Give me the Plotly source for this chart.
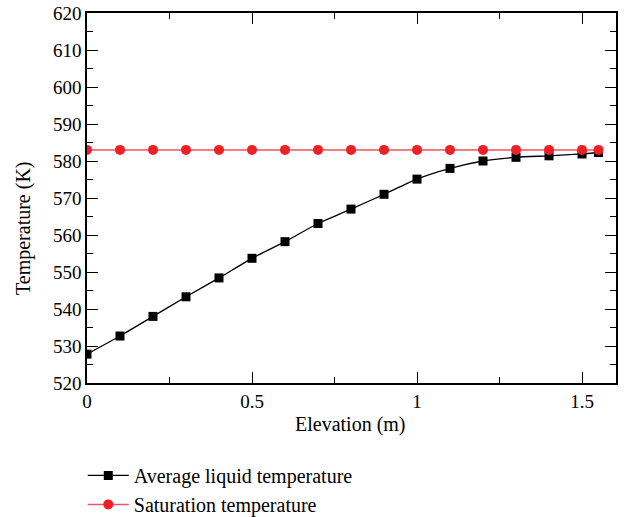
import plotly.graph_objects as go

elevation = [0, 0.1, 0.2, 0.3, 0.4, 0.5, 0.6, 0.7, 0.8, 0.9, 1.0, 1.1, 1.2, 1.3, 1.4, 1.5, 1.55]
avg_liquid = [527.8, 532.7, 538.0, 543.3, 548.4, 553.7, 558.2, 563.1, 567.0, 571.0,
              575.1, 578.0, 580.0, 581.0, 581.4, 581.9, 582.3]
saturation = [583.0] * len(elevation)

font_family = "Liberation Serif"

fig = go.Figure()
fig.add_trace(go.Scatter(
    x=elevation, y=avg_liquid, mode="lines+markers",
    name="Average liquid temperature",
    line=dict(color="black", width=1.3, shape="spline", smoothing=0.6),
    marker=dict(symbol="square", size=9, color="black"),
))
fig.add_trace(go.Scatter(
    x=elevation, y=saturation, mode="lines+markers",
    name="Saturation temperature",
    line=dict(color="#ee5560", width=1.5),
    marker=dict(symbol="circle", size=10, color="#ee2027"),
))

axis_common = dict(
    showline=True, linecolor="black", linewidth=1.5, mirror="allticks",
    ticks="inside", ticklen=11, tickwidth=1.2, tickcolor="black",
    showgrid=False, zeroline=False,
    tickfont=dict(family=font_family, size=19, color="black"),
)

fig.update_xaxes(
    range=[0, 1.603], tickvals=[0, 0.5, 1, 1.5], ticktext=["0", "0.5", "1", "1.5"],
    minor=dict(tickvals=[0.25, 0.75, 1.25], ticks="inside", ticklen=6, tickcolor="black", tickwidth=1.2),
    ticklabelstandoff=0,
    **axis_common,
)
fig.update_yaxes(
    range=[520, 620], dtick=10,
    minor=dict(dtick=5, ticks="inside", ticklen=6, tickcolor="black", tickwidth=1.2),
    **axis_common,
)

title_font = dict(family=font_family, size=20, color="black")
fig.add_annotation(text="Elevation (m)", xref="paper", yref="paper",
                   x=0.499, y=-0.1135, xanchor="center", yanchor="middle",
                   showarrow=False, font=title_font)
fig.add_annotation(text="Temperature (K)", xref="paper", yref="paper",
                   x=-0.119, y=0.419, xanchor="center", yanchor="middle",
                   textangle=-90, showarrow=False, font=title_font)

fig.update_layout(
    width=624, height=517,
    margin=dict(l=87, r=8, t=13, b=134, autoexpand=False),
    plot_bgcolor="white", paper_bgcolor="white",
    font=dict(family=font_family, size=19, color="black"),
    legend=dict(
        x=-0.008, y=-0.197, xanchor="left", yanchor="top",
        orientation="v", bgcolor="rgba(0,0,0,0)",
        font=dict(family=font_family, size=20, color="black"),
        itemwidth=41, tracegroupgap=0,
    ),
)

fig.write_html("out.html")
